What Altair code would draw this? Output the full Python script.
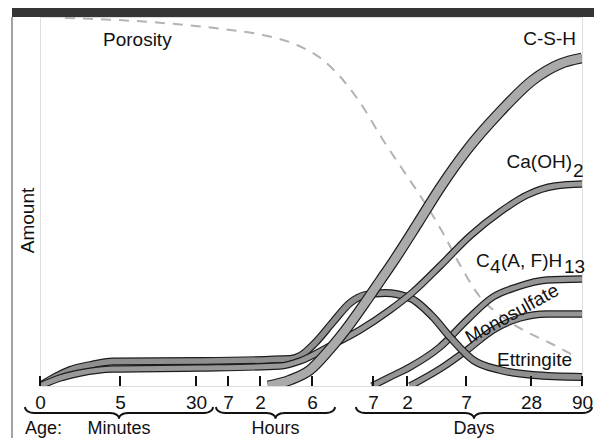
import altair as alt
import pandas as pd
import numpy as np

FONT = "Liberation Sans"

# Schematic (non-linear) age axis: position of each tick along the axis
TICK_POS = [0, 80, 156, 188, 220, 272, 333, 367, 426, 491, 542]
TICK_LABELS = ["0", "5", "30", "7", "2", "6", "7", "2", "7", "28", "90"]

# Brace groups under the tick labels
GROUP_NAMES = ["Minutes", "Hours", "Days"]
BRACE_START = [-15, 176, 316]
BRACE_END = [173, 295, 552]

# Hydration products (relative amount vs. age position)
ETT_X = [0, 15, 30, 50, 73, 160, 250, 260, 275, 293, 310, 325, 345, 370, 393, 410, 433, 460, 493, 542]
ETT_Y = [0, 9, 16, 21, 24.5, 25, 27, 30, 43, 64, 83, 91, 93, 88, 69, 49, 26, 16, 11, 9]

CAOH_X = [0, 20, 40, 73, 160, 240, 260, 290, 320, 350, 373, 400, 430, 460, 487, 515, 542]
CAOH_Y = [0, 8, 13, 17, 18, 20, 25, 40, 56, 76, 94, 120, 150, 174, 191, 200, 202]

CSH_X = [228, 250, 270, 290, 310, 327, 340, 353, 378, 400, 427, 460, 493, 520, 542]
CSH_Y = [0, 6, 16, 37, 62, 86, 105, 124, 163, 198, 236, 274, 306, 322, 328]

C4AH_X = [332, 350, 370, 400, 427, 453, 477, 507, 542]
C4AH_Y = [0, 9, 19, 39, 66, 89, 99, 106, 107]

MONO_X = [370, 403, 427, 453, 480, 507, 542]
MONO_Y = [0, 19, 36, 56, 68, 72, 72]

POR_X = [25, 110, 190, 223, 257, 283, 303, 323, 343, 363, 383, 403, 420, 440, 460, 483, 510, 533]
POR_Y = [368, 364, 356, 351, 341, 326, 306, 279, 246, 216, 186, 153, 121, 89, 71, 56, 43, 31]

X_MAX = 542
Y_MAX = 369

xs = alt.Scale(domain=[0, X_MAX], nice=False, zero=False)
ys = alt.Scale(domain=[0, Y_MAX], nice=False, zero=False)

x_axis = alt.Axis(values=TICK_POS, labelExpr="%s[indexof(%s, datum.value)]" % (
    "[" + ",".join("'%s'" % t for t in TICK_LABELS) + "]",
    "[" + ",".join(str(v) for v in TICK_POS) + "]"),
    ticks=False, tickSize=0, grid=False, domain=False, labelFont=FONT, labelFontSize=19,
    labelColor="#111", labelPadding=7, labelFlush=False, labelOverlap=False, labelBound=False, title=None)
y_axis = alt.Axis(labels=False, ticks=False, tickSize=0, grid=False, domain=False, title="Amount",
                  titleFont=FONT, titleFontSize=19, titleFontWeight="normal", titleColor="#111",
                  titleX=-7, titleY=203, titleBaseline="alphabetic", titleAngle=270)

def X(field="x"):
    return alt.X(f"{field}:Q", scale=xs, axis=x_axis)

def Y(field="y"):
    return alt.Y(f"{field}:Q", scale=ys, axis=y_axis)

# curves table
curve_defs = [
    ("C4(A,F)H13", C4AH_X, C4AH_Y, 5, "#959595"),
    ("Monosulfate", MONO_X, MONO_Y, 5, "#959595"),
    ("Ettringite", ETT_X, ETT_Y, 5.5, "#8f8f8f"),
    ("Ca(OH)2", CAOH_X, CAOH_Y, 5, "#999999"),
    ("C-S-H", CSH_X, CSH_Y, 8.5, "#aaaaaa"),
]
rows = []
for name, cx, cy, _, _ in curve_defs:
    for a, b in zip(cx, cy):
        rows.append({"curve": name, "x": a, "y": b})
curves_df = pd.DataFrame(rows)

layers = []

# frame decorations (slide border)
one = pd.DataFrame({"a": [0]})
layers.append(alt.Chart(one).mark_rect(color="#353535").encode(
    x=alt.value(-28), x2=alt.value(554), y=alt.value(-9), y2=alt.value(0)))
layers.append(alt.Chart(one).mark_rule(color="#666", strokeWidth=1.2).encode(
    x=alt.value(-28), y=alt.value(0), y2=alt.value(430)))

# porosity dashed curve
por_df = pd.DataFrame({"x": POR_X, "y": POR_Y})
layers.append(alt.Chart(por_df).mark_line(color="#b3b3b3", strokeWidth=2, strokeDash=[10, 8],
                                          interpolate="monotone", clip=True).encode(x=X(), y=Y()))

base = alt.Chart(curves_df)
for name, _, _, w, fill in curve_defs:
    sub = base.transform_filter(alt.datum.curve == name)
    layers.append(sub.mark_line(color="#1c1c1c", strokeWidth=w + 2.4, interpolate="monotone",
                                clip=True, strokeCap="butt", strokeJoin="round").encode(x=X(), y=Y()))
    layers.append(sub.mark_line(color=fill, strokeWidth=w, interpolate="monotone",
                                clip=True, strokeCap="butt", strokeJoin="round").encode(x=X(), y=Y()))

# inward tick marks
tick_df = pd.DataFrame({"x": TICK_POS, "y": [0] * len(TICK_POS), "y2": [10] * len(TICK_POS)})
layers.append(alt.Chart(tick_df).mark_rule(color="#111", strokeWidth=2).encode(
    x=X(), y=Y(), y2="y2:Q"))

# braces
brace_rows = []
r = 9.0
for g, (a, b) in enumerate(zip(BRACE_START, BRACE_END)):
    m = (a + b) / 2.0
    pts = []
    th = np.linspace(0, np.pi / 2, 8)
    for t in th:
        pts.append((a + r * (1 - np.cos(t)), -27 + 6 * (1 - np.sin(t))))
    for t in th:
        pts.append((m - r + r * np.sin(t), -27 - 5.5 * (1 - np.cos(t))))
    for t in th[::-1]:
        pts.append((m + r - r * np.sin(t), -27 - 5.5 * (1 - np.cos(t))))
    for t in th[::-1]:
        pts.append((b - r * (1 - np.cos(t)), -27 + 6 * (1 - np.sin(t))))
    for i, (px, py) in enumerate(pts):
        brace_rows.append({"g": GROUP_NAMES[g], "i": g * 100 + i, "x": px, "y": py})
brace_df = pd.DataFrame(brace_rows)
layers.append(alt.Chart(brace_df).mark_line(color="#111", strokeWidth=2, interpolate="linear").encode(
    x=X(), y=Y(), detail="g:N", order="i:Q"))

# labels
lab = pd.DataFrame([
    {"t": "Porosity", "x": 63, "y": 340, "al": "left"},
    {"t": "C-S-H", "x": 536, "y": 341, "al": "right"},
    {"t": "Ca(OH)", "x": 532, "y": 218, "al": "right"},
    {"t": "2", "x": 533, "y": 209, "al": "left"},
    {"t": "C", "x": 436, "y": 119, "al": "left"},
    {"t": "4", "x": 450, "y": 113, "al": "left"},
    {"t": "(A, F)H", "x": 461, "y": 119, "al": "left"},
    {"t": "13", "x": 524, "y": 113, "al": "left"},
    {"t": "Ettringite", "x": 457, "y": 20, "al": "left"},
])
for al in ["left", "right"]:
    layers.append(alt.Chart(lab[lab.al == al]).mark_text(
        font=FONT, fontSize=19, color="#111", align=al, baseline="alphabetic").encode(
        x=X(), y=Y(), text="t:N"))

bottom = pd.DataFrame({"t": ["Age:"] + GROUP_NAMES,
                       "x": [-15] + [(a + b) / 2.0 for a, b in zip(BRACE_START, BRACE_END)],
                       "y": [-47.5] * 4,
                       "al": ["left", "center", "center", "center"]})
for al in ["left", "center"]:
    layers.append(alt.Chart(bottom[bottom.al == al]).mark_text(
        font=FONT, fontSize=18, color="#111", align=al, baseline="alphabetic").encode(
        x=X(), y=Y(), text="t:N"))

mono = pd.DataFrame({"t": ["Monosulfate"], "x": [472], "y": [72]})
layers.append(alt.Chart(mono).mark_text(font=FONT, fontSize=19, color="#111", align="center",
                                        baseline="middle", angle=331).encode(x=X(), y=Y(), text="t:N"))

chart = alt.layer(*layers).properties(
    width=X_MAX, height=Y_MAX,
    autosize=alt.AutoSizeParams(type="none"),
    padding={"left": 32, "top": 9, "right": 12, "bottom": 52},
).configure_view(stroke="#111", strokeWidth=2).configure(background="white")

chart.save("out.html", embed_options={"renderer": "svg", "actions": False})
